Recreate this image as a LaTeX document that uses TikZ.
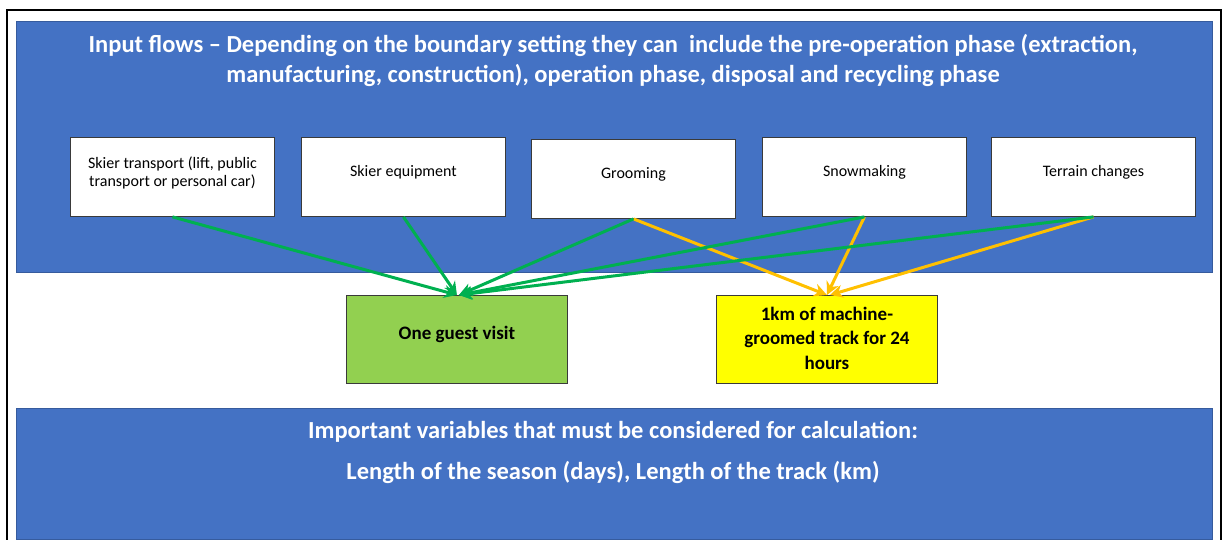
\documentclass[tikz,border=0pt]{standalone}
\usepackage{fontspec}
\setmainfont{Carlito}
\usetikzlibrary{arrows.meta}
\definecolor{bluebg}{HTML}{4472C4}
\definecolor{gbox}{HTML}{92D050}
\definecolor{ybox}{HTML}{FFFF00}
\definecolor{gline}{HTML}{00B050}
\definecolor{oline}{HTML}{FFC000}
\definecolor{edge}{HTML}{3A3A3A}
\begin{document}
\begin{tikzpicture}[x=1pt,y=-1pt,
  panel/.style={draw=bluebg!80!black, line width=0.6pt, fill=bluebg, anchor=north west, inner sep=0pt},
  inbox/.style={draw=edge, line width=0.9pt, fill=white, anchor=north west, minimum width=204pt, minimum height=79pt, inner sep=0pt},
  outbox/.style={draw=edge, line width=0.9pt, anchor=north west, minimum width=221pt, minimum height=88pt, inner sep=0pt},
  intext/.style={font=\fontsize{16}{18}\selectfont, align=center, inner sep=0pt},
  outtext/.style={font=\fontsize{19}{24.5}\selectfont\bfseries, align=center, inner sep=0pt},
  headtext/.style={font=\fontsize{24.5}{30}\selectfont\bfseries, text=white, align=center, inner sep=0pt},
  garrow/.style={draw=gline, line width=3pt, -{Stealth[length=13pt,width=13pt]}},
  oarrow/.style={draw=oline, line width=3pt, -{Stealth[length=13pt,width=13pt]}}
]
\useasboundingbox (0,0) rectangle (1224,540);
\draw[line width=1.6pt] (7,548) -- (7,10) -- (1221,10) -- (1221,548);

% top panel
\node[panel, minimum width=1196pt, minimum height=251pt] (top) at (16,21) {};
\node[headtext] (toptext) at (613,60) {Input flows -- Depending on the boundary setting they can\ \ include the pre-operation phase (extraction,\\manufacturing, construction), operation phase, disposal and recycling phase};

% input boxes
\node[inbox] (b1) at (70,137) {};
\node[inbox] (b2) at (301,137) {};
\node[inbox] (b3) at (531,139) {};
\node[inbox] (b4) at (762,137) {};
\node[inbox] (b5) at (991,137) {};
\node[intext] (t1) at ([yshift=4.5pt]b1.center) {Skier transport (lift, public\\transport or personal car)};
\node[intext] (t2) at ([yshift=4.5pt]b2.center) {Skier equipment};
\node[intext] (t3) at ([yshift=4.5pt]b3.center) {Grooming};
\node[intext] (t4) at ([yshift=4.5pt]b4.center) {Snowmaking};
\node[intext] (t5) at ([yshift=4.5pt]b5.center) {Terrain changes};

% output boxes
\node[outbox, fill=gbox] (guest) at (346,295) {};
\node[outtext] (guesttext) at ([yshift=5pt]guest.center) {One guest visit};
\node[outbox, fill=ybox] (track) at (716,295) {};
\node[outtext] (tracktext) at ([yshift=1.5pt]track.center) {1km of machine-\\groomed track for 24\\hours};

% bottom panel
\node[panel, minimum width=1196pt, minimum height=131pt] (bottom) at (16,408) {};
\node[headtext] (bottomtext) at (613,452.5) {Important variables that must be considered for calculation:\\[11pt]Length of the season (days), Length of the track (km)};

% arrows
\draw[garrow] (b1.south) -- (guest.north);
\draw[garrow] (b2.south) -- (guest.north);
\draw[oarrow] (b3.south) -- (track.north);
\draw[oarrow] (b4.south) -- (track.north);
\draw[oarrow] (b5.south) -- ([xshift=3pt]track.north);
\draw[garrow] (b3.south) -- ([xshift=2pt]guest.north);
\draw[garrow] (b4.south) -- ([xshift=2pt]guest.north);
\draw[garrow] (b5.south) -- ([xshift=2pt]guest.north);
\end{tikzpicture}
\end{document}
